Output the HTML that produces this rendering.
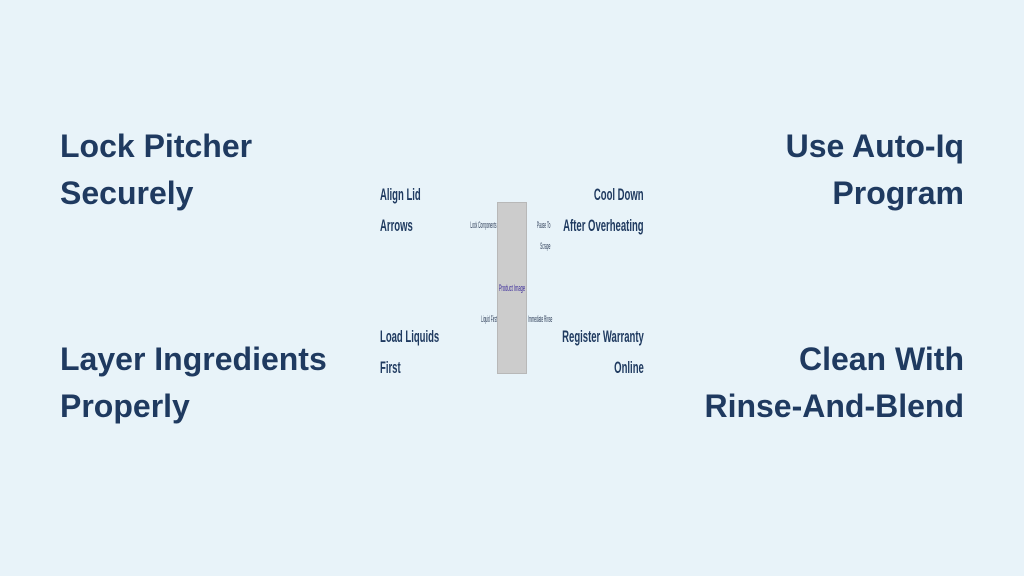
<!DOCTYPE html>
<html><head><style>
body{margin:0;width:1024px;height:576px;background:#e8f3f9;position:relative;overflow:hidden;font-family:"Liberation Sans",sans-serif;color:#1f3a60}
.b{position:absolute;font-weight:bold;font-size:32px;line-height:47px}
.m{position:absolute;font-size:17px;font-weight:bold;line-height:31px;transform:scaleX(0.56);white-space:nowrap}
.s{position:absolute;font-size:9px;line-height:12px;transform:scaleX(0.36);white-space:nowrap;color:#2a3a55}
.l{transform-origin:left}.r{transform-origin:right;text-align:right}
</style></head><body>
<div class="b" style="left:60px;top:123px">Lock Pitcher<br>Securely</div>
<div class="b" style="left:60px;top:336px">Layer Ingredients<br>Properly</div>
<div class="b" style="right:60px;top:123px;text-align:right">Use Auto-Iq<br>Program</div>
<div class="b" style="right:60px;top:336px;text-align:right">Clean With<br>Rinse-And-Blend</div>
<div class="m l" style="left:380px;top:179px">Align Lid<br>Arrows</div>
<div class="m l" style="left:380px;top:321px">Load Liquids<br>First</div>
<div class="m r" style="right:380px;top:179px">Cool Down<br>After Overheating</div>
<div class="m r" style="right:380px;top:321px">Register Warranty<br>Online</div>
<div style="position:absolute;left:497px;top:202px;width:28px;height:170px;background:#cccccc;border:1px solid #b8b8b8"></div>
<div class="s r" style="right:527px;top:219px">Lock Components</div>
<div class="s r" style="right:527px;top:313px">Liquid First</div>
<div class="s r" style="right:474px;top:215px;line-height:21px">Pause To<br>Scrape</div>
<div class="s l" style="left:528px;top:313px">Immediate Rinse</div>
<div class="s" style="left:480px;top:282px;width:64px;text-align:center;color:#3a2a9a;transform:scaleX(0.45);transform-origin:center">Product Image</div>
</body></html>
